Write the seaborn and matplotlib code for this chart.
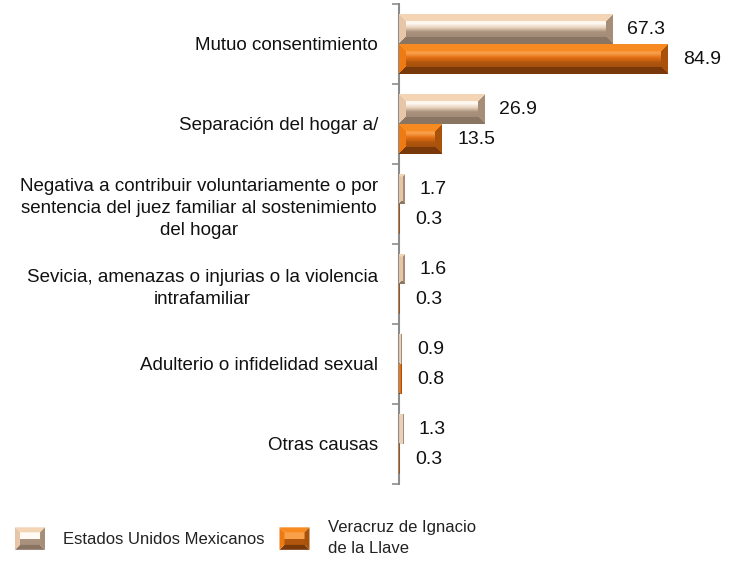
import numpy as np
import pandas as pd
import matplotlib
matplotlib.use('Agg')
import matplotlib.pyplot as plt
import seaborn as sns
from matplotlib.colors import to_rgb
from matplotlib.patches import Polygon, Rectangle
from matplotlib.legend_handler import HandlerBase

# datos
causas = [
    'Mutuo consentimiento',
    'Separación del hogar a/',
    'Negativa a contribuir voluntariamente o por\nsentencia del juez familiar al sostenimiento\ndel hogar',
    'Sevicia, amenazas o injurias o la violencia\nintrafamiliar',
    'Adulterio o infidelidad sexual',
    'Otras causas',
]
nacional = [67.3, 26.9, 1.7, 1.6, 0.9, 1.3]
veracruz = [84.9, 13.5, 0.3, 0.3, 0.8, 0.3]
series = ['Estados Unidos Mexicanos', 'Veracruz de Ignacio\nde la Llave']

df = pd.DataFrame({
    'causa': causas * 2,
    'valor': nacional + veracruz,
    'serie': [series[0]] * len(causas) + [series[1]] * len(causas),
})

# estilos de bisel
BEVEL = {
    series[0]: dict(top='#f3d5b6', bottom='#8a7563', left='#e6c6a6', right='#a68d77',
                    stops=[0, 0.3, 0.45, 0.6, 1.0],
                    inner=['#fbe4cc', '#fffaf4', '#e8d2bc', '#a8927e', '#9a846f'],
                    mid='#d8bfa5'),
    series[1]: dict(top='#f88a22', bottom='#78380a', left='#ee7a14', right='#a8520c',
                    stops=[0, 0.3, 0.45, 0.62, 1.0],
                    inner=['#f57f1c', '#f9a04a', '#e26f14', '#b0560e', '#96480c'],
                    mid='#e8761a'),
}


def bevel_image(spec, H, W, b):
    H = max(H, 1)
    W = max(W, 1)
    cols = np.array([to_rgb(c) for c in spec['inner']])
    t = np.linspace(0, 1, H)
    prof = np.stack([np.interp(t, spec['stops'], cols[:, k]) for k in range(3)], axis=1)
    img = np.repeat(prof[:, None, :], W, axis=1)
    ii, jj = np.mgrid[0:H, 0:W]
    d = np.stack([ii, H - 1 - ii, jj, W - 1 - jj])
    m = d.min(axis=0)
    which = d.argmin(axis=0)
    edge = m < b
    for k, key in enumerate(['top', 'bottom', 'left', 'right']):
        img[edge & (which == k)] = to_rgb(spec[key])
    if W <= 4:
        # barras muy delgadas: se ven como una linea oscura
        img[:, -1] = to_rgb(spec['right'])
        if W > 2:
            img[:, 1:-1] = to_rgb(spec['inner'][2])
    return img


class BevelHandler(HandlerBase):
    def __init__(self, spec):
        super().__init__()
        self.spec = spec

    def create_artists(self, legend, orig_handle, xdescent, ydescent,
                       width, height, fontsize, trans):
        s = self.spec
        x0, y0 = -xdescent, -ydescent
        x1, y1 = x0 + width, y0 + height
        b = min(width, height) * 0.22
        arts = [
            Rectangle((x0 + b, y0 + height / 2), width - 2 * b, height / 2 - b,
                      facecolor=s['inner'][1], edgecolor='none', transform=trans),
            Rectangle((x0 + b, y0 + b), width - 2 * b, height / 2 - b,
                      facecolor=s['inner'][3], edgecolor='none', transform=trans),
            Polygon([(x0, y1), (x1, y1), (x1 - b, y1 - b), (x0 + b, y1 - b)],
                    facecolor=s['top'], edgecolor='none', transform=trans),
            Polygon([(x0, y0), (x1, y0), (x1 - b, y0 + b), (x0 + b, y0 + b)],
                    facecolor=s['bottom'], edgecolor='none', transform=trans),
            Polygon([(x0, y0), (x0, y1), (x0 + b, y1 - b), (x0 + b, y0 + b)],
                    facecolor=s['left'], edgecolor='none', transform=trans),
            Polygon([(x1, y0), (x1, y1), (x1 - b, y1 - b), (x1 - b, y0 + b)],
                    facecolor=s['right'], edgecolor='none', transform=trans),
        ]
        return arts


sns.set_style('white')
plt.rcParams['font.family'] = ['Liberation Sans', 'DejaVu Sans']

fig = plt.figure(figsize=(7.37, 5.65), dpi=100)
ax = fig.add_axes([399 / 737, 1 - 484 / 565, 316.5 / 737, 480 / 565])

sns.barplot(data=df, y='causa', x='valor', hue='serie', orient='h',
            palette=[BEVEL[s]['mid'] for s in series], width=0.75,
            saturation=1, legend=False, ax=ax)

ax.set_xlim(0, 100)
ax.set_ylim(len(causas) - 0.5, -0.5)

# pixeles por unidad
p0 = ax.transData.transform((0, 0))
p1 = ax.transData.transform((1, 1))
px_x = abs(p1[0] - p0[0])
px_y = abs(p1[1] - p0[1])

for cont, s in zip(ax.containers, series):
    for patch in cont:
        x0, y0 = patch.get_x(), patch.get_y()
        w, h = patch.get_width(), patch.get_height()
        W = int(round(w * px_x))
        H = int(round(h * px_y))
        img = bevel_image(BEVEL[s], H, W, 7)
        ax.imshow(img, extent=(x0, x0 + w, y0 + h, y0), aspect='auto',
                  interpolation='nearest', zorder=3)
        patch.set_facecolor('none')
        patch.set_edgecolor('none')
    ax.bar_label(cont, fmt='%.1f', padding=11, fontsize=14, color='#111111')

ax.set_xlim(0, 100)
ax.set_ylim(len(causas) - 0.5, -0.5)

# ejes
for side in ['top', 'right', 'bottom']:
    ax.spines[side].set_visible(False)
ax.spines['left'].set_color('#8c8c8c')
ax.spines['left'].set_linewidth(1.5)
ax.set_xticks([])
ax.set_xlabel('')
ax.set_ylabel('')
ax.set_yticks(np.arange(len(causas)))
ax.set_yticklabels(causas, fontsize=13.5, color='#111111')
for lab in ax.get_yticklabels():
    lab.set_multialignment('center')
    lab.set_linespacing(1.4)
ax.tick_params(axis='y', which='major', left=True, length=0, pad=15)
ax.set_yticks(np.arange(len(causas) + 1) - 0.5, minor=True)
ax.tick_params(axis='y', which='minor', left=True, length=5, width=1.2,
               color='#8c8c8c', direction='out')

# leyenda
handles = [Rectangle((0, 0), 1, 1) for _ in series]
leg = fig.legend(handles, series, loc='center left',
                 bbox_to_anchor=(15 / 737, 1 - 538 / 565), ncol=2,
                 frameon=False, borderpad=0, borderaxespad=0,
                 prop={'family': ['Liberation Sans', 'DejaVu Sans'], 'size': 12},
                 handlelength=1.8, handleheight=1.7, handletextpad=1.08,
                 columnspacing=0.9,
                 handler_map={handles[0]: BevelHandler(BEVEL[series[0]]),
                              handles[1]: BevelHandler(BEVEL[series[1]])})
for t in leg.get_texts():
    t.set_color('#222222')
    t.set_linespacing(1.45)

fig.savefig('out.png', dpi=100)
